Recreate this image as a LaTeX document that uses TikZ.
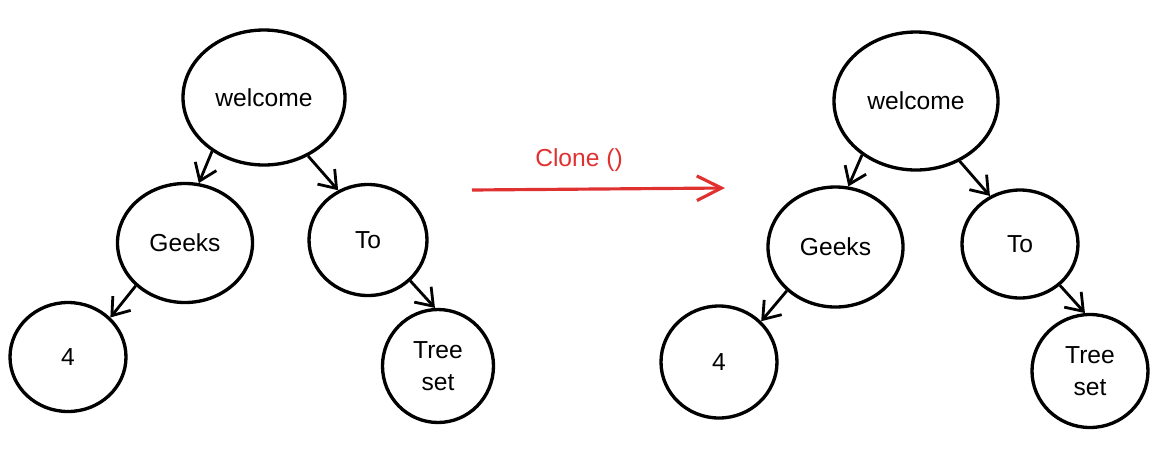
\documentclass[tikz,border=0pt]{standalone}
\usepackage{fontspec}
\setmainfont{Liberation Sans}
\usepackage{tikz}
\usetikzlibrary{shapes.geometric,arrows.meta}
\definecolor{clonered}{HTML}{E03131}
\tikzset{
  font={\fontsize{14pt}{18pt}\selectfont},
  treenode/.style={draw=black,ellipse,line width=1.9pt,inner sep=0pt,align=center},
  treeedge/.style={draw=black,line width=1.6pt,-{Straight Barb[length=9pt,width=13pt,line width=1.6pt]}},
  clonearrow/.style={draw=clonered,line width=1.8pt,-{Straight Barb[length=14pt,width=14pt,line width=1.8pt]}}}

\begin{document}
\begin{tikzpicture}[scale=0.2]
\useasboundingbox (0,0) rectangle (117,-45.6);
% first tree
\node [treenode,minimum width=3.24cm,minimum height=2.7cm] (w1) at (26.4,-9.75) {welcome};
\node [treenode,minimum width=2.7cm,minimum height=2.38cm] (g1) at (18.5,-24.3) {Geeks};
\node [treenode,minimum width=2.36cm,minimum height=2.22cm] (t1) at (36.8,-24.0) {To};
\node [treenode,minimum width=2.32cm,minimum height=2.18cm] (f1) at (6.8,-35.7) {4};
\node [treenode,minimum width=2.22cm,minimum height=2.26cm] (s1) at (43.8,-36.6) {Tree\\set};
\draw [treeedge] (w1.226) -- (g1.77);
\draw [treeedge] (w1.307) -- (t1.121);
\draw [treeedge] (g1.221) -- (f1.43);
\draw [treeedge] (t1.316) -- (s1.93);
% clone arrow
\coordinate (cfrom) at (47.2,-19.0);
\coordinate (cto) at (72.5,-18.8);
\draw [clonearrow] (cfrom) -- (cto);
\node [text=clonered] (clonelbl) at (57.9,-16.0) {Clone ()};
% second tree
\node [treenode,minimum width=3.28cm,minimum height=2.76cm] (w2) at (91.6,-10.1) {welcome};
\node [treenode,minimum width=2.7cm,minimum height=2.4cm] (g2) at (83.55,-24.7) {Geeks};
\node [treenode,minimum width=2.32cm,minimum height=2.16cm] (t2) at (102.0,-24.4) {To};
\node [treenode,minimum width=2.32cm,minimum height=2.24cm] (f2) at (71.9,-36.2) {4};
\node [treenode,minimum width=2.32cm,minimum height=2.26cm] (s2) at (109.0,-37.1) {Tree\\set};
\draw [treeedge] (w2.225) -- (g2.78);
\draw [treeedge] (w2.306) -- (t2.122);
\draw [treeedge] (g2.222) -- (f2.44);
\draw [treeedge] (t2.314) -- (s2.95);
\end{tikzpicture}
\end{document}
